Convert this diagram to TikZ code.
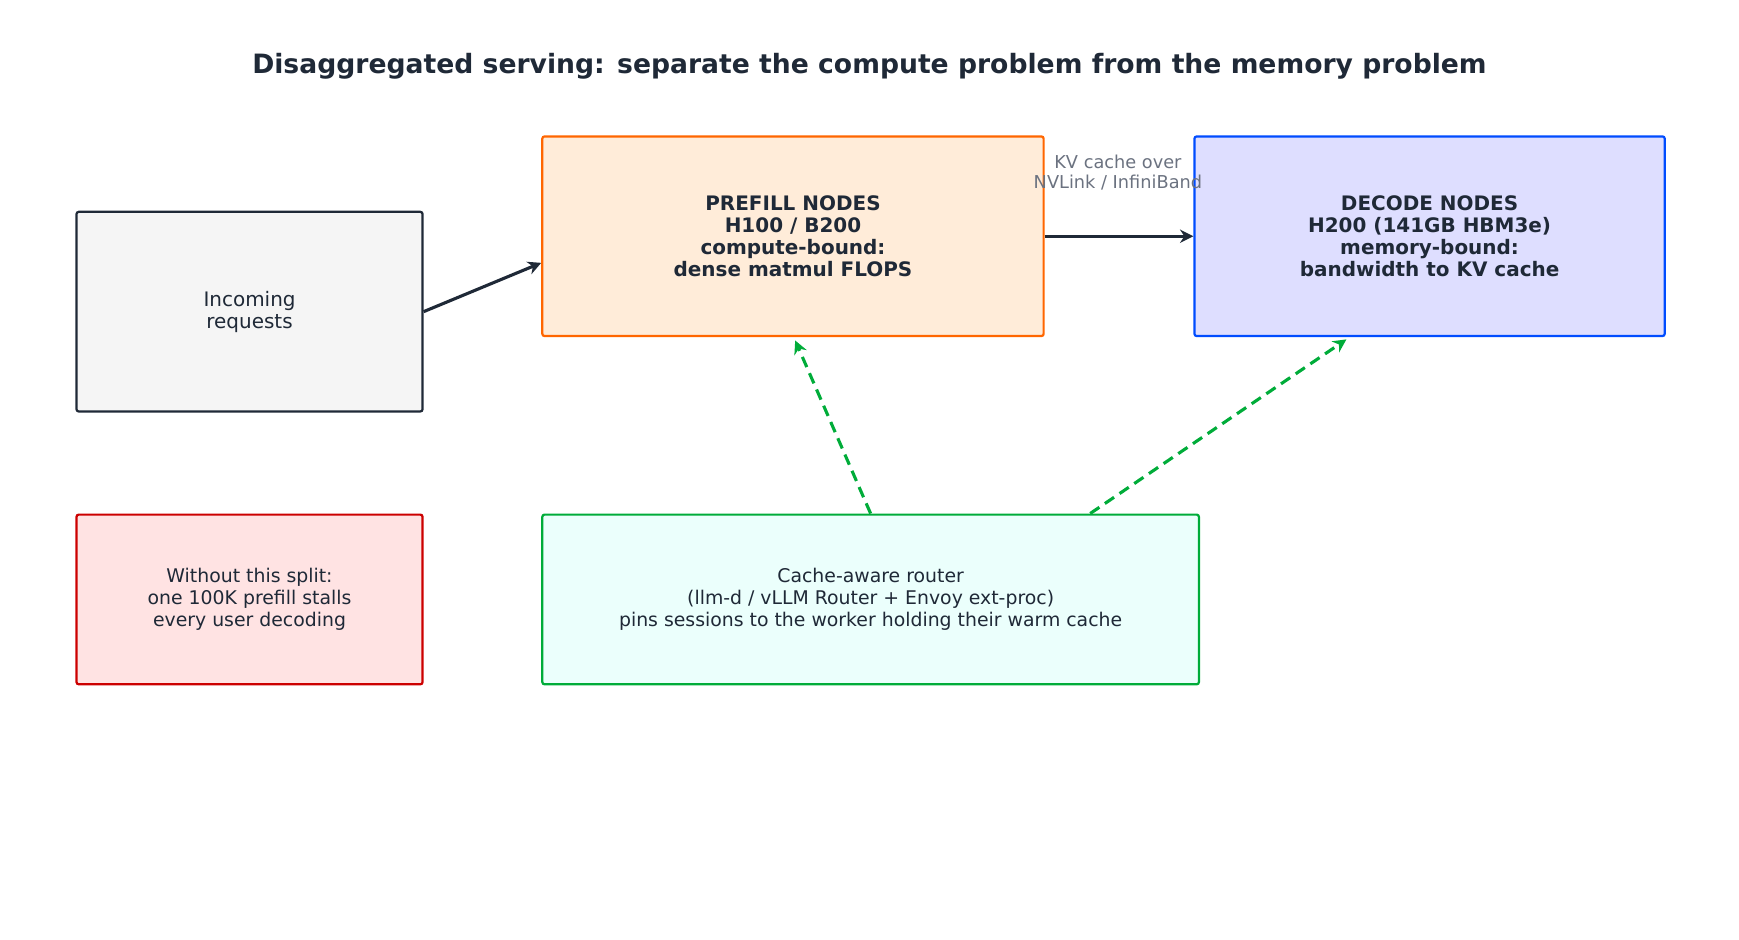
\documentclass[tikz,border=0pt]{standalone}
\usepackage{fontspec}
\setmainfont{DejaVu Sans}
\usetikzlibrary{arrows.meta}
\definecolor{inkdark}{HTML}{1F2937}
\definecolor{inkgray}{HTML}{6B7280}

\begin{document}
\begin{tikzpicture}[x=0.5pt,y=-0.5pt,node font=\fontsize{9}{10}\selectfont,
  box/.style={draw,line width=1pt,rounded corners=1pt,align=center,text=inkdark,anchor=north west},
  flow/.style={-{Stealth[length=6pt,width=6pt]},line width=1.4pt,draw=inkdark},
  route/.style={-{Stealth[length=6pt,width=6pt]},line width=1.4pt,draw=green!50!teal!90!black,dashed,dash pattern=on 5pt off 3pt}]
			\useasboundingbox (0,0) rectangle (1568,847);
			
			\node[font=\bfseries\fontsize{12}{14}\selectfont,text=inkdark] (title) at (784,60) {Disaggregated serving: separate the compute problem from the memory problem};
			
			\node[box,draw=inkdark,fill=gray!8,minimum width=156pt,minimum height=90pt] (incoming) at (68,190) {Incoming\\requests};
			\node[box,draw=orange!80!red,fill=orange!15,minimum width=226pt,minimum height=90pt,font=\bfseries\fontsize{9}{10}\selectfont] (prefill) at (488,122) {PREFILL NODES\\H100 / B200\\compute-bound:\\dense matmul FLOPS};
			\node[box,draw=blue!70!cyan,fill=blue!13,minimum width=212pt,minimum height=90pt,font=\bfseries\fontsize{9}{10}\selectfont] (decode) at (1076,122) {DECODE NODES\\H200 (141GB HBM3e)\\memory-bound:\\bandwidth to KV cache};
			\node[box,draw=red!80!black,fill=red!11,minimum width=156pt,minimum height=76.5pt,font=\fontsize{8.5}{10}\selectfont] (warning) at (68,463) {Without this split:\\one 100K prefill stalls\\every user decoding};
			\node[box,draw=green!50!teal!90!black,fill=green!15!cyan!8,minimum width=296pt,minimum height=76.5pt,font=\fontsize{8.5}{10}\selectfont] (router) at (488,463) {Cache-aware router\\(llm-d / vLLM Router + Envoy ext-proc)\\pins sessions to the worker holding their warm cache};
			
			\node[text=inkgray,align=center,font=\fontsize{8}{9}\selectfont] (kvlabel) at (1008,156) {KV cache over\\NVLink / InfiniBand};
			
			\draw[flow] (incoming.east) -- ([yshift=-12pt]prefill.west);
			\draw[flow] (prefill.east) -- (decode.west);
			\draw[route] (router.north) -- ([xshift=1pt,yshift=-1.5pt]prefill.south);
			\draw[route] ([xshift=99pt]router.north) -- ([xshift=-37.5pt,yshift=-1pt]decode.south);
		\end{tikzpicture}
\end{document}
